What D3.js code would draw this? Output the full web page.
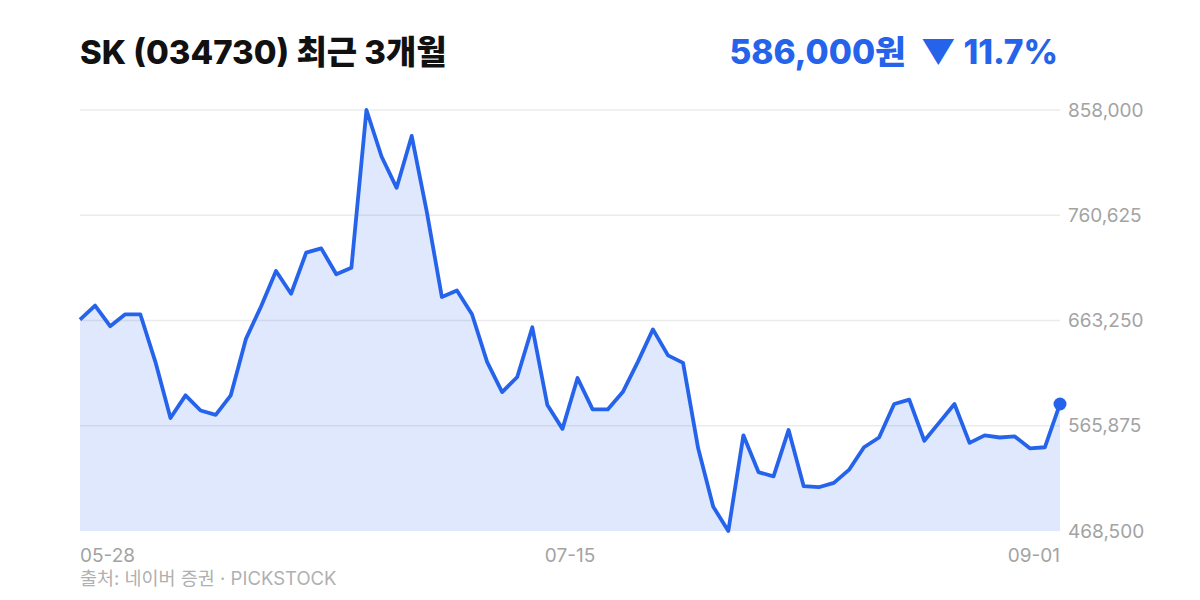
<!doctype html>
<html>
<head>
<meta charset="UTF-8">
<title>SK 최근 3개월</title>
<script src="https://cdn.jsdelivr.net/npm/d3@7"></script>
<style>
  body { margin: 0; background: #fff; }
  svg text { font-family: "Inter", "Noto Sans CJK KR", sans-serif; white-space: pre; }
</style>
</head>
<body>
<div id="chart"></div>
<script>
// 종가 데이터 (2025-05-28 ~ 2025-09-01, 거래일 기준)
var dates = ["05-28","05-29","05-30","06-02","06-04","06-05","06-09","06-10","06-11","06-12",
  "06-13","06-16","06-17","06-18","06-19","06-20","06-23","06-24","06-25","06-26",
  "06-27","06-30","07-01","07-02","07-03","07-04","07-07","07-08","07-09","07-10",
  "07-11","07-14","07-15","07-16","07-17","07-18","07-21","07-22","07-23","07-24",
  "07-25","07-28","07-29","07-30","07-31","08-01","08-04","08-05","08-06","08-07",
  "08-08","08-11","08-12","08-13","08-14","08-18","08-19","08-20","08-21","08-22",
  "08-25","08-26","08-27","08-28","08-29","09-01"];
var closes = [664000,677000,658000,669000,669000,625000,573000,594000,580000,576000,
  594000,646000,676000,709000,688000,726000,730000,706000,712000,858000,
  815000,786000,834000,764000,685000,691000,669000,625000,597000,611000,
  657000,585000,563000,610000,581000,581000,597000,625000,655000,631000,
  624000,545000,491000,468500,557000,523000,519000,562000,510000,509000,
  513000,525000,546000,555000,586000,590000,552000,569000,586000,550000,
  557000,555000,556000,545000,546000,586000];
var xTickIdx = [0, 32.5, 65];
var xTickLabels = ["05-28", "07-15", "09-01"];

var title = "SK (034730) 최근 3개월";
var source = "출처: 네이버 증권 · PICKSTOCK";

var W = 1200, H = 600;
var margin = {top: 110, right: 140, bottom: 69, left: 80};
var blue = "#2563eb";

var svg = d3.select("#chart").append("svg")
  .attr("width", W).attr("height", H);

var lo = d3.min(closes), hi = d3.max(closes);
var x = d3.scaleLinear().domain([0, closes.length - 1]).range([margin.left, W - margin.right]);
var y = d3.scaleLinear().domain([lo, hi]).range([H - margin.bottom, margin.top]);

// y 눈금: 최소~최대 4등분
var yTicks = d3.range(5).map(i => lo + (hi - lo) * i / 4);
var fmt = d3.format(",.0f");

svg.append("g").selectAll("line")
  .data(yTicks.filter(d => d != lo))
  .enter().append("line")
    .attr("x1", x(0)).attr("x2", x(closes.length - 1))
    .attr("y1", d => y(d)).attr("y2", d => y(d))
    .attr("stroke", "#ebebeb").attr("stroke-width", 1.5);

svg.append("g").selectAll("text")
  .data(yTicks)
  .enter().append("text")
    .attr("x", x(closes.length - 1) + 8)
    .attr("y", d => y(d))
    .attr("dy", "0.35em")
    .attr("font-size", 19)
    .attr("fill", "#a3a3a3")
    .text(d => fmt(d));

// 영역 + 선
var area = d3.area()
  .x((d, i) => x(i))
  .y0(y(lo))
  .y1(d => y(d));
svg.append("path")
  .datum(closes)
  .attr("d", area)
  .attr("fill", blue).attr("fill-opacity", 0.15);

var line = d3.line()
  .x((d, i) => x(i))
  .y(d => y(d));
svg.append("path")
  .datum(closes)
  .attr("d", line)
  .attr("fill", "none")
  .attr("stroke", blue)
  .attr("stroke-width", 3.8)
  .attr("stroke-linejoin", "round");

var last = closes.length - 1;
svg.append("circle")
  .attr("cx", x(last)).attr("cy", y(closes[last]))
  .attr("r", 6.5).attr("fill", blue);

// x 눈금
svg.append("g").selectAll("text")
  .data(xTickIdx)
  .enter().append("text")
    .attr("x", d => x(d))
    .attr("y", 562)
    .attr("font-size", 19)
    .attr("fill", "#a3a3a3")
    .attr("text-anchor", (d, i) => i == 0 ? "start" : (i == xTickIdx.length - 1 ? "end" : "middle"))
    .text((d, i) => xTickLabels[i]);

// 제목
svg.append("text")
  .attr("x", margin.left).attr("y", 64)
  .attr("font-size", 33).attr("font-weight", 800)
  .attr("fill", "#111")
  .text(title);

var change = (closes[last] / closes[0] - 1) * 100;
svg.append("text")
  .attr("x", x(last) - 2).attr("y", 64)
  .attr("text-anchor", "end")
  .attr("font-size", 33.5).attr("font-weight", 800)
  .attr("fill", blue)
  .text(fmt(closes[last]) + "원  " + (change < 0 ? "▼ " : "▲ ") + Math.abs(change).toFixed(1) + "%");

svg.append("text")
  .attr("x", margin.left).attr("y", 585)
  .attr("font-size", 18.5)
  .attr("fill", "#b0b0b0")
  .text(source);
</script>
</body>
</html>
